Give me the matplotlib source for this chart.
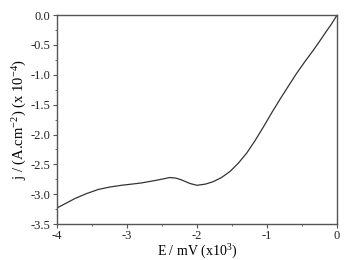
import numpy as np
import matplotlib
matplotlib.use("Agg")
import matplotlib.pyplot as plt
from matplotlib.ticker import MultipleLocator, FuncFormatter

###############################################################################
# Data (E in 10^3 mV, j in 10^-4 A/cm2)
###############################################################################
E = [-4.00, -3.87, -3.74, -3.58, -3.41, -3.25, -3.08, -2.93, -2.79, -2.60,
     -2.47, -2.39, -2.30, -2.22, -2.10, -2.00, -1.88, -1.77, -1.65, -1.53,
     -1.41, -1.29, -1.17, -1.05, -0.93, -0.81, -0.69, -0.58, -0.46, -0.34,
     -0.25, -0.17, -0.08, 0.00]
j = [-3.23, -3.15, -3.07, -2.99, -2.92, -2.88, -2.85, -2.83, -2.81, -2.77,
     -2.74, -2.72, -2.73, -2.76, -2.82, -2.85, -2.83, -2.79, -2.72, -2.62,
     -2.48, -2.31, -2.10, -1.87, -1.63, -1.40, -1.18, -0.98, -0.78, -0.59,
     -0.44, -0.30, -0.15, 0.00]
#------------------------------------------------------------------------------

plt.rcParams['font.family'] = ['Liberation Serif', 'DejaVu Serif']
plt.rcParams['mathtext.fontset'] = 'custom'
plt.rcParams['mathtext.rm'] = 'Liberation Serif'
plt.rcParams['mathtext.default'] = 'regular'

fig = plt.figure(figsize=(3.45, 2.6), dpi=100)
ax = fig.add_axes([0.165, 0.138, 0.812, 0.804])

ax.plot(E, j, color='#333333', lw=0.9)

ax.set_xlim(-4, 0)
ax.set_ylim(-3.5, 0)
ax.xaxis.set_major_locator(MultipleLocator(1))
ax.xaxis.set_minor_locator(MultipleLocator(0.5))
ax.yaxis.set_major_locator(MultipleLocator(0.5))
ax.yaxis.set_minor_locator(MultipleLocator(0.25))
ax.xaxis.set_major_formatter(FuncFormatter(lambda v, p: '%d' % round(v)))
ax.yaxis.set_major_formatter(FuncFormatter(lambda v, p: ('%.1f' % v).replace('\u2212', '-')))

for s in ax.spines.values():
    s.set_color('#555555')
    s.set_linewidth(1.0)
ax.tick_params(which='both', direction='out', color='#555555', labelcolor='#222222',
               labelsize=9, pad=1.5)
ax.tick_params(which='major', length=3)
ax.tick_params(which='minor', length=1.5)

ax.set_xlabel('E / mV (x10$^{3}$)', fontsize=10, labelpad=0)
ax.set_ylabel('j / (A.cm$^{-2}$) (x 10$^{-4}$)', fontsize=10.5, labelpad=1)

fig.savefig('out.png', dpi=100)
